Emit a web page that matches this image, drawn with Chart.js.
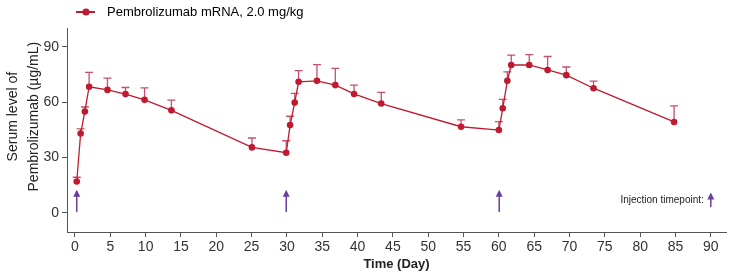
<!DOCTYPE html>
<html>
<head>
<meta charset="utf-8">
<script src="https://cdn.jsdelivr.net/npm/chart.js@4.4.0/dist/chart.umd.min.js"></script>
<style>
    body { margin: 0; background: #fff; }
    #wrap { width: 730px; height: 277px; }
</style>
</head>
<body>
<div id="wrap"><canvas id="pkChart" width="730" height="277"></canvas></div>
<script>
// Values (day, mean serum level, top of error bar)
const days = [0.25, 0.8, 1.4, 2.0, 4.6, 7.15, 9.85, 13.65, 25.05,
    29.9, 30.45, 31.1, 31.65, 34.25, 36.85, 39.5, 43.35, 54.65,
    60.0, 60.55, 61.2, 61.75, 64.3, 66.9, 69.55, 73.4, 84.8];
const meanLevels = [17, 43, 55, 68.4, 66.7, 64.4, 61.3, 55.6, 35.5,
    32.6, 47.6, 59.8, 71.1, 71.6, 69.3, 64.5, 59.3, 46.7,
    44.9, 56.7, 71.6, 80.2, 80.2, 77.5, 74.7, 67.6, 49.3];
const upperLevels = [19.3, 45.6, 57.4, 76.2, 73.1, 68, 67.8, 61.1, 40.6,
    39.1, 52.4, 64.8, 77.1, 80.4, 78.4, 69.3, 65.3, 50.4,
    49.5, 61.5, 76.5, 85.6, 85.8, 84.8, 79.1, 71.5, 58];
const injectionDays = [0.25, 29.9, 60.05];
const xTicks = [0, 5, 10, 15, 20, 25, 30, 35, 40, 45, 50, 55, 60, 65, 70, 75, 80, 85, 90];
const yTicks = [0, 30, 60, 90];
const seriesLabel = 'Pembrolizumab mRNA, 2.0 mg/kg';

const lineColor = '#c01a30';
const errColor = '#c4506a';
const arrowColor = '#6a3e9e';
const shift = '\u00a0'.repeat(7); // nudges the axis title up a bit, like the original

// legend symbol: short line with a dot, as a little canvas
function makeLegendSymbol() {
    const c = document.createElement('canvas');
    c.width = 90;
    c.height = 14;
    const g = c.getContext('2d');
    g.strokeStyle = lineColor;
    g.lineWidth = 2;
    g.beginPath();
    g.moveTo(68, 7);
    g.lineTo(87, 7);
    g.stroke();
    g.fillStyle = lineColor;
    g.beginPath();
    g.arc(78, 7, 3.6, 0, Math.PI * 2);
    g.fill();
    return c;
}

function drawArrow(ctx, x, yBottom, yTop) {
    ctx.save();
    ctx.strokeStyle = arrowColor;
    ctx.fillStyle = arrowColor;
    ctx.lineWidth = 1.5;
    ctx.beginPath();
    ctx.moveTo(x, yBottom);
    ctx.lineTo(x, yTop + 5);
    ctx.stroke();
    ctx.beginPath();
    ctx.moveTo(x, yTop);
    ctx.lineTo(x - 3.5, yTop + 7);
    ctx.lineTo(x + 3.5, yTop + 7);
    ctx.closePath();
    ctx.fill();
    ctx.restore();
}

const errorBars = {
    id: 'errorBars',
    beforeDatasetsDraw(chart) {
        const ctx = chart.ctx;
        const xs = chart.scales.x;
        const ys = chart.scales.y;
        ctx.save();
        ctx.strokeStyle = errColor;
        ctx.lineWidth = 1.3;
        for (let i = 0; i < days.length; i++) {
            const x = xs.getPixelForValue(days[i]);
            const y1 = ys.getPixelForValue(meanLevels[i]);
            const y2 = ys.getPixelForValue(upperLevels[i]);
            ctx.beginPath();
            ctx.moveTo(x, y1);
            ctx.lineTo(x, y2);
            ctx.moveTo(x - 4, y2);
            ctx.lineTo(x + 4, y2);
            ctx.stroke();
        }
        ctx.restore();
    }
};

const injections = {
    id: 'injections',
    afterDatasetsDraw(chart) {
        const ctx = chart.ctx;
        const xs = chart.scales.x;
        const ys = chart.scales.y;
        injectionDays.forEach(d => {
            drawArrow(ctx, xs.getPixelForValue(d), ys.getPixelForValue(0.5), ys.getPixelForValue(12.5));
        });
        // key in the lower right corner
        const kx = xs.getPixelForValue(90);
        drawArrow(ctx, kx, ys.getPixelForValue(3.2), ys.getPixelForValue(11));
        ctx.save();
        ctx.font = '10px "Liberation Sans", Arial, sans-serif';
        ctx.fillStyle = '#222';
        ctx.textAlign = 'right';
        ctx.textBaseline = 'middle';
        ctx.fillText('Injection timepoint:', kx - 7, ys.getPixelForValue(7));
        ctx.restore();
    }
};

const ctx = document.getElementById('pkChart').getContext('2d');
const pkChart = new Chart(ctx, {
    type: 'line',
    data: {
        datasets: [{
            label: seriesLabel,
            data: days.map((d, i) => ({ x: d, y: meanLevels[i] })),
            borderColor: lineColor,
            backgroundColor: lineColor,
            borderWidth: 1.3,
            pointRadius: 3.3,
            pointBorderWidth: 0,
            pointBackgroundColor: lineColor,
            tension: 0
        }]
    },
    options: {
        responsive: false,
        animation: false,
        layout: { padding: { left: 0, right: 2, top: 0, bottom: 0 } },
        plugins: {
            tooltip: { enabled: false },
            legend: {
                display: true,
                position: 'top',
                align: 'start',
                labels: {
                    usePointStyle: true,
                    pointStyleWidth: 95,
                    boxHeight: 13,
                    padding: 5.5,
                    color: '#222',
                    font: { family: '"Liberation Sans", Arial, sans-serif', size: 13 },
                    generateLabels: () => [{
                        text: seriesLabel,
                        pointStyle: makeLegendSymbol(),
                        fillStyle: lineColor,
                        strokeStyle: lineColor,
                        lineWidth: 0,
                        datasetIndex: 0
                    }]
                }
            }
        },
        scales: {
            x: {
                type: 'linear',
                min: -1.13,
                max: 92.15,
                afterBuildTicks: scale => { scale.ticks = xTicks.map(v => ({ value: v })); },
                afterFit: scale => { scale.height = 45; },
                grid: { drawOnChartArea: false, drawTicks: true, tickLength: 5, color: '#555' },
                border: { display: true, color: '#555', width: 1 },
                ticks: {
                    autoSkip: false,
                    maxRotation: 0,
                    padding: 2,
                    color: '#333',
                    font: { family: '"Liberation Sans", Arial, sans-serif', size: 14 }
                },
                title: {
                    display: true,
                    text: 'Time (Day)',
                    color: '#222',
                    padding: { top: 0, bottom: 5 },
                    font: { family: '"Liberation Sans", Arial, sans-serif', size: 13, weight: 'bold' }
                }
            },
            y: {
                min: -10.4,
                max: 100,
                afterBuildTicks: scale => { scale.ticks = yTicks.map(v => ({ value: v })); },
                afterFit: scale => { scale.width = 67; },
                grid: { drawOnChartArea: false, drawTicks: true, tickLength: 5, color: '#555' },
                border: { display: true, color: '#555', width: 1 },
                ticks: {
                    padding: 3,
                    color: '#333',
                    font: { family: '"Liberation Sans", Arial, sans-serif', size: 14 }
                },
                title: {
                    display: true,
                    text: [shift + 'Serum level of', shift + 'Pembrolizumab (µg/mL)'],
                    color: '#222',
                    padding: { top: 2, bottom: 2 },
                    font: { family: '"Liberation Sans", Arial, sans-serif', size: 14, lineHeight: 1.55 }
                }
            }
        }
    },
    plugins: [errorBars, injections]
});
</script>
</body>
</html>
